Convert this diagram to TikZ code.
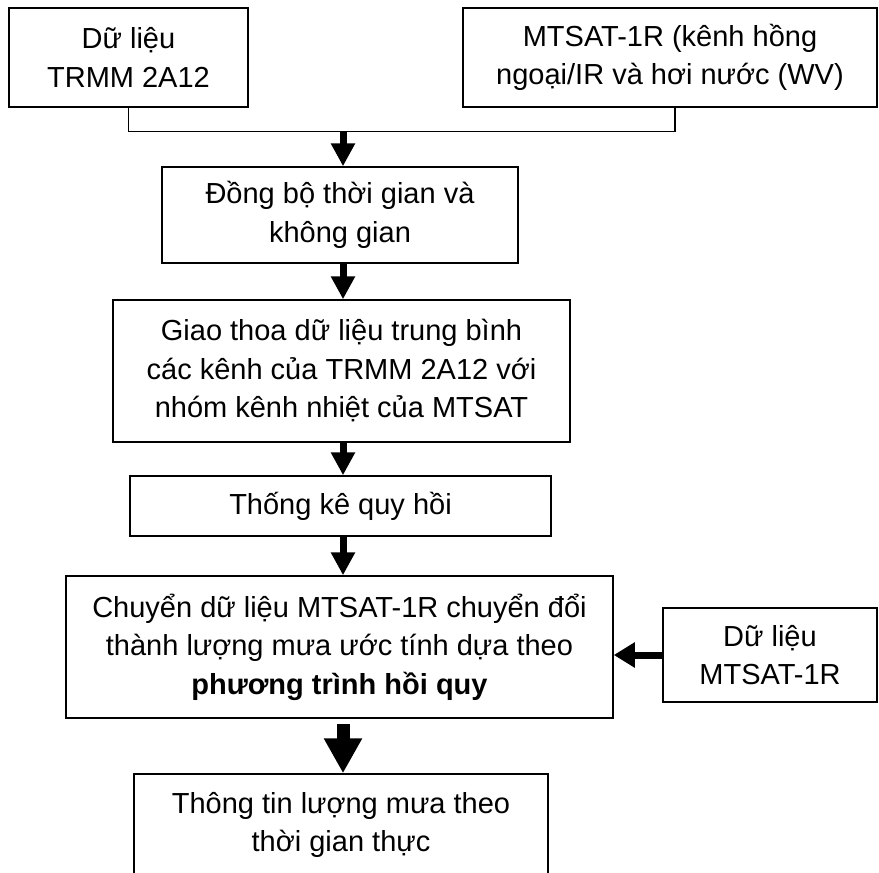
\documentclass[tikz,border=0pt]{standalone}
\usepackage{fontspec}
\setmainfont{Liberation Sans}
\usetikzlibrary{arrows.meta}
\begin{document}
\begin{tikzpicture}[x=1pt,y=-1pt,
  box/.style={draw, line width=1.5pt, align=center, inner sep=2pt,
    font=\fontsize{29}{38.5}\selectfont},
  conn/.style={line width=1.5pt},
  flow/.style={line width=7pt, -{Triangle[width=23pt,length=23pt]}},
  flowh/.style={line width=7pt, -{Triangle[width=24pt,length=21pt]}},
  bigflow/.style={line width=13pt, -{Triangle[width=36pt,length=35pt]}}]
\clip (0,0) rectangle (879,873);
\fill[white] (0,0) rectangle (879,873);
\node[box, minimum width=239pt, minimum height=99pt] (b1) at (128.5,57.5) {Dữ liệu\\TRMM 2A12};
\node[box, minimum width=414pt, minimum height=99pt] (b2) at (670,57.5) {MTSAT-1R (kênh hồng\\ngoại/IR và hơi nước (WV)};
\node[box, minimum width=356pt, minimum height=96pt] (b3) at (340,215) {Đồng bộ thời gian và\\không gian};
\node[box, minimum width=457pt, minimum height=142pt] (b4) at (341.5,371) {Giao thoa dữ liệu trung bình\\các kênh của TRMM 2A12 với\\nhóm kênh nhiệt của MTSAT};
\node[box, minimum width=421pt, minimum height=60pt] (b5) at (340.5,506) {Thống kê quy hồi};
\node[box, minimum width=547pt, minimum height=142pt] (b6) at (339.5,647) {Chuyển dữ liệu MTSAT-1R chuyển đổi\\thành lượng mưa ước tính dựa theo\\\textbf{phương trình hồi quy}};
\node[box, minimum width=214pt, minimum height=94pt] (b7) at (770,655) {Dữ liệu\\MTSAT-1R};
\node[box, minimum width=414pt, minimum height=102pt] (b8) at (341,825) {Thông tin lượng mưa theo\\thời gian thực};
\coordinate (j) at (343,131.5);
\draw[conn] (b1.south) |- (j) -| ([xshift=5pt]b2.south);
\draw[flow] (j) -- (j |- b3.north);
\draw[flow] (b3.south -| j) -- (b4.north -| j);
\draw[flow] (b4.south -| j) -- (b5.north -| j);
\draw[flow] (b5.south -| j) -- (b6.north -| j);
\draw[bigflow] ([yshift=-5pt]b6.south -| j) -- (b8.north -| j);
\draw[flowh] (b7.west) -- (b7.west -| b6.east);
\end{tikzpicture}
\end{document}
